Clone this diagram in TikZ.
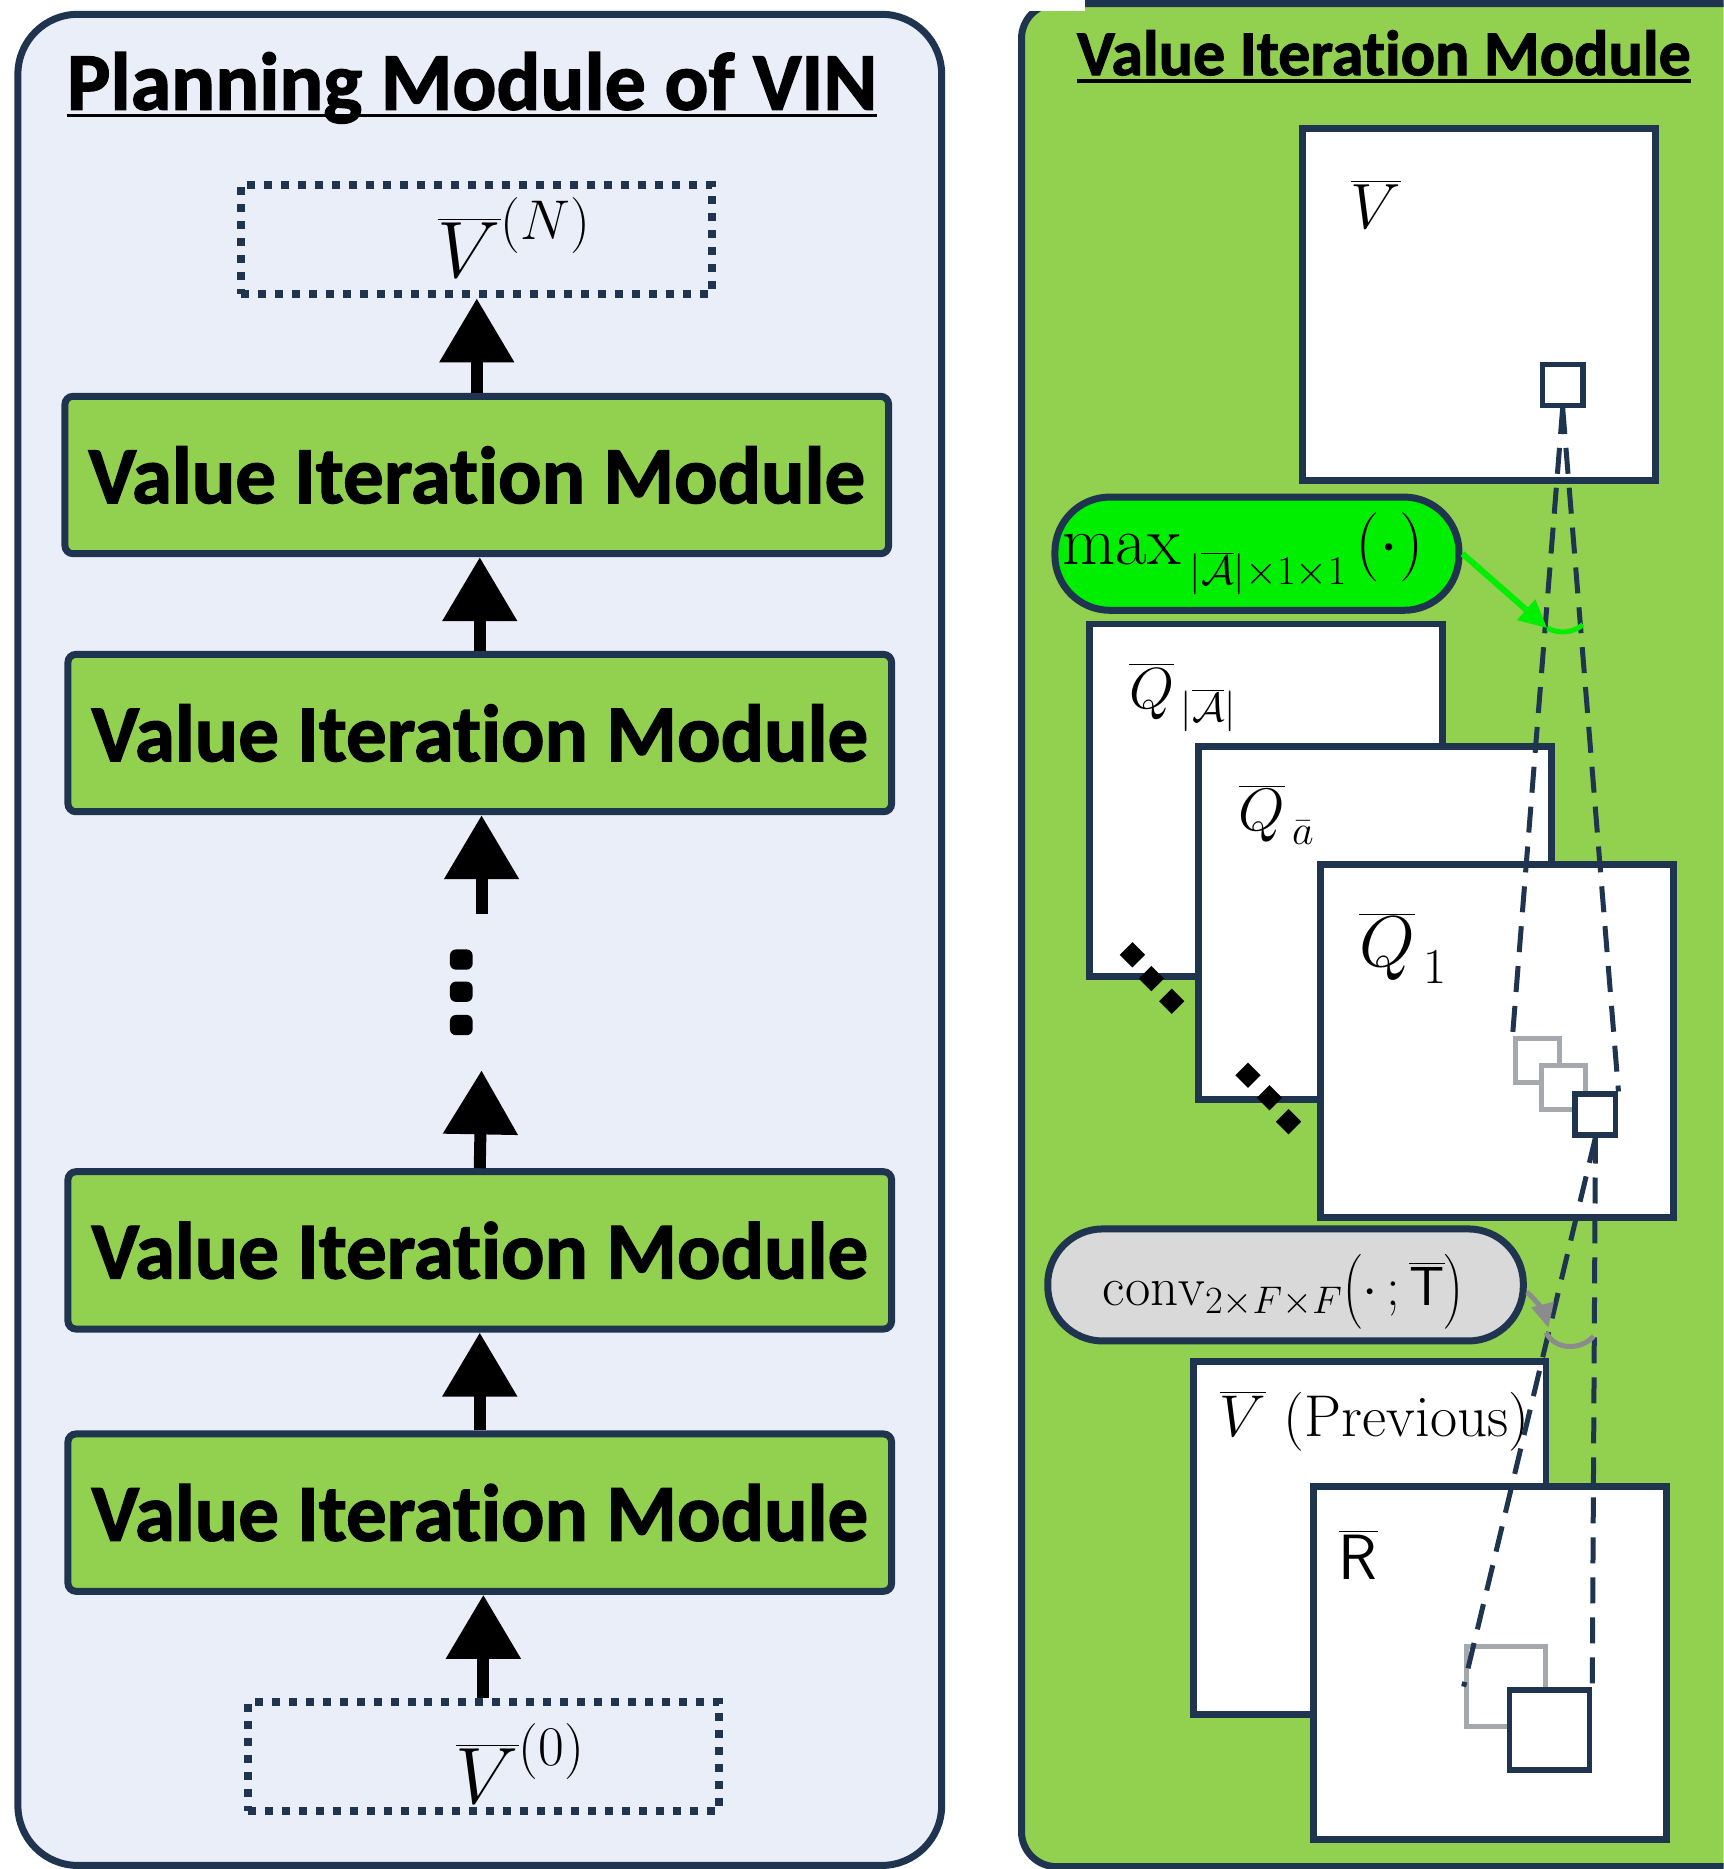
\RequirePackage{fix-cm}
\documentclass[tikz,border=0pt]{standalone}
\usepackage{fontspec}
\usepackage{amsmath}
\usetikzlibrary{arrows.meta}
\newfontfamily\headfont{Carlito}[Ligatures=NoCommon, BoldFeatures={FakeBold=1.6}]
\newdimen\upx \upx=1.1923pt

\definecolor{navy}{RGB}{31,52,78}
\definecolor{panelblue}{RGB}{233,238,248}
\definecolor{vimgreen}{RGB}{146,208,80}
\definecolor{maxgreen}{RGB}{0,238,0}
\definecolor{convgrey}{RGB}{217,217,217}
\definecolor{sqgrey}{RGB}{165,168,172}
\definecolor{arcgrey}{RGB}{140,140,140}

\tikzset{
  panel/.style={draw=navy, line width=7pt, fill=panelblue, rounded corners=60pt},
  rpanel/.style={draw=navy, line width=7pt, fill=vimgreen, rounded corners=35pt},
  lhead/.style={inner sep=0pt, font=\headfont\bfseries\fontsize{82}{90}\selectfont},
  rhead/.style={inner sep=0pt, font=\headfont\bfseries\fontsize{64}{72}\selectfont},
  uline/.style={line width=3.5pt, black},
  vimbox/.style={draw=navy, line width=7pt, fill=vimgreen, rounded corners=8pt,
    minimum width=691\upx, minimum height=132\upx, inner sep=0pt,
    font=\headfont\bfseries\fontsize{81}{90}\selectfont},
  dotbox/.style={draw=navy, line width=8pt, dash pattern=on 8pt off 9pt,
    minimum width=395\upx, minimum height=92\upx, inner sep=0pt},
  dotsq/.style={fill=black, rounded corners=6pt, minimum width=19\upx,
    minimum height=17\upx, inner sep=0pt},
  blk/.style={-{Triangle[width=72pt,length=64pt]}, line width=12pt, black},
  sheet/.style={draw=navy, line width=7pt, fill=white, minimum size=296\upx, inner sep=0pt},
  cell/.style={draw=navy, line width=5.5pt, fill=white, minimum size=34\upx, inner sep=0pt},
  gcell/.style={draw=sqgrey, line width=5pt, fill=white, minimum size=37\upx, inner sep=0pt},
  dia/.style={fill=black, minimum size=15\upx, inner sep=0pt, rotate=45},
  pill/.style={draw=navy, line width=7pt, rounded corners=55pt, inner sep=0pt},
  lbl/.style={inner sep=0pt},
  dashln/.style={draw=navy, line width=5pt, dash pattern=on 26pt off 14pt},
  garrow/.style={draw=maxgreen, line width=6pt, -{Triangle[width=26pt,length=28pt]}},
  carrow/.style={draw=arcgrey, line width=5pt, -{Triangle[width=22pt,length=24pt]}},
}

\begin{document}
\begin{tikzpicture}[x=1.1923pt, y=-1.1923pt]
\useasboundingbox (0,0) rectangle (1446,1568);
\clip (0,0) rectangle (1446,1568);
\fill[white] (0,0) rectangle (1446,1568);

% ---------------- planning module ----------------
\draw[panel] (15,12) rectangle (790,1565);
\node[lhead, anchor=base] (ltitle) at (396,92) {Planning Module of VIN};
\draw[uline] ([yshift=-6pt]ltitle.base west) -- ([yshift=-6pt]ltitle.base east);

\node[dotbox] (vN) at (399.5,201) {};
\node[lbl, anchor=base west, font=\fontsize{80}{86}\selectfont] (vNl) at (367,233) {$\overline{V}^{(N)}$};

\node[vimbox] (vim1) at (400,398.5) {Value Iteration Module};
\node[vimbox] (vim2) at (402.5,615) {Value Iteration Module};
\node[vimbox] (vim3) at (402.5,1049) {Value Iteration Module};
\node[vimbox] (vim4) at (402.5,1269) {Value Iteration Module};

\node[dotbox] (v0) at (405.5,1473.5) {};
\node[lbl, anchor=base west, font=\fontsize{80}{86}\selectfont] (v0l) at (382,1513) {$\overline{V}^{(0)}$};

% vertical ellipsis between the stages
\node[dotsq] (d1) at (387,805) {};
\node[dotsq] (d2) at (387,832) {};
\node[dotsq] (d3) at (387,860) {};
\coordinate (dtop) at (404,767);
\coordinate (dbot) at (404,898);

\draw[blk] (vim1.north) -- (vim1.north |- vN.south);
\draw[blk] (vim2.north) -- (vim2.north |- vim1.south);
\draw[blk] (dtop) -- (dtop |- vim2.south);
\draw[blk] (vim3.north) -- (dbot);
\draw[blk] (vim4.north) -- (vim4.north |- vim3.south);
\draw[blk] (v0.north) -- (v0.north |- vim4.south);

% ---------------- value iteration module ----------------
\draw[rpanel] (857,3) rectangle (1540,1566);
\fill[white] (840,-10) rectangle (910,9);
\node[rhead, anchor=base] (rtitle) at (1161,63) {Value Iteration Module};
\draw[uline] ([yshift=-6pt]rtitle.base west) -- ([yshift=-6pt]rtitle.base east);

% value map
\node[sheet] (vtop) at (1240.5,255.5) {};
\node[lbl, anchor=base west, font=\fontsize{64}{70}\selectfont] (vtopl) at (1133,192) {$\overline{V}$};
\node[cell] (sv) at (1311,323) {};

% max over actions
\node[pill, fill=maxgreen, minimum width=339\upx, minimum height=95\upx] (mx) at (1054.5,464.5) {};
\node[lbl, anchor=base west, font=\fontsize{69}{74}\selectfont] (mxl) at (891,474)
  {$\mathrm{max}$\kern9pt\raisebox{-20pt}{\fontsize{41}{44}\selectfont$|\overline{\mathcal{A}}|{\times}1{\times}1$}\kern9pt$(\cdot)$};

% Q maps
\node[sheet] (qA) at (1062,671.5) {};
\node[lbl, anchor=base west, font=\fontsize{58}{64}\selectfont] (qAl) at (947,594)
  {$\overline{Q}_{\,|\overline{\mathcal{A}}|}$};
\node[dia] (da1) at (950,801) {};
\node[dia] (da2) at (966,821) {};
\node[dia] (da3) at (983,840) {};

\node[sheet] (qa) at (1153.5,774) {};
\node[lbl, anchor=base west, font=\fontsize{60}{64}\selectfont] (qal) at (1039,697)
  {$\overline{Q}_{\,\bar{a}}$};
\node[dia] (db1) at (1047,902) {};
\node[dia] (db2) at (1065,921) {};
\node[dia] (db3) at (1081,941) {};

\node[sheet] (q1) at (1256,873) {};
\node[lbl, anchor=base west, font=\fontsize{72}{76}\selectfont] (q1l) at (1140,811)
  {$\overline{Q}_{\,1}$};
\node[gcell] (g1) at (1289.5,890) {};
\node[gcell] (g2) at (1311.5,912) {};
\node[cell] (n1) at (1338.5,935) {};

% transition convolution
\node[pill, fill=convgrey, minimum width=399\upx, minimum height=94\upx] (cv) at (1078.5,1078) {};
\node[lbl, anchor=base west, font=\fontsize{55}{60}\selectfont] (cvl) at (925,1095)
  {$\mathrm{conv}_{2\times F\times F}\bigl(\cdot\,;\overline{\mathsf{T}}\bigr)$};

% previous value and reward
\node[sheet] (vp) at (1149,1290) {};
\node[lbl, anchor=base west, font=\fontsize{59}{62}\selectfont] (vpl) at (1023,1205)
  {$\overline{V}$ (Previous)};
\node[sheet] (rr) at (1250,1395) {};
\node[lbl, anchor=base west, font=\fontsize{64}{70}\selectfont] (rrl) at (1123,1325)
  {$\overline{\mathsf{R}}$};
\node[gcell, minimum size=67\upx] (rg) at (1263.5,1415) {};
\node[cell, minimum size=67\upx] (rn) at (1300,1451.5) {};

% receptive fields
\draw[dashln] (sv.south) -- (g1.north west);
\draw[dashln] (sv.south) -- (n1.north east);
\draw[dashln] (n1.south) -- (rg.west);
\draw[dashln] (n1.south) -- (rn.north east);

% operation markers
\coordinate (gtip) at (1298,527);
\coordinate (gend) at (1328,524);
\draw[garrow] (mx.east) -- (gtip);
\draw[draw=maxgreen, line width=5pt] (gtip) .. controls (1308,532) and (1320,531) .. (gend);

\coordinate (ctip) at (1299,1114);
\coordinate (cst) at (1281,1084);
\coordinate (cend) at (1337,1121);
\draw[carrow] (cst) .. controls (1290,1092) and (1296,1102) .. (ctip);
\draw[draw=arcgrey, line width=5pt] (1297,1118) .. controls (1305,1133) and (1326,1133) .. (cend);
\end{tikzpicture}
\end{document}
